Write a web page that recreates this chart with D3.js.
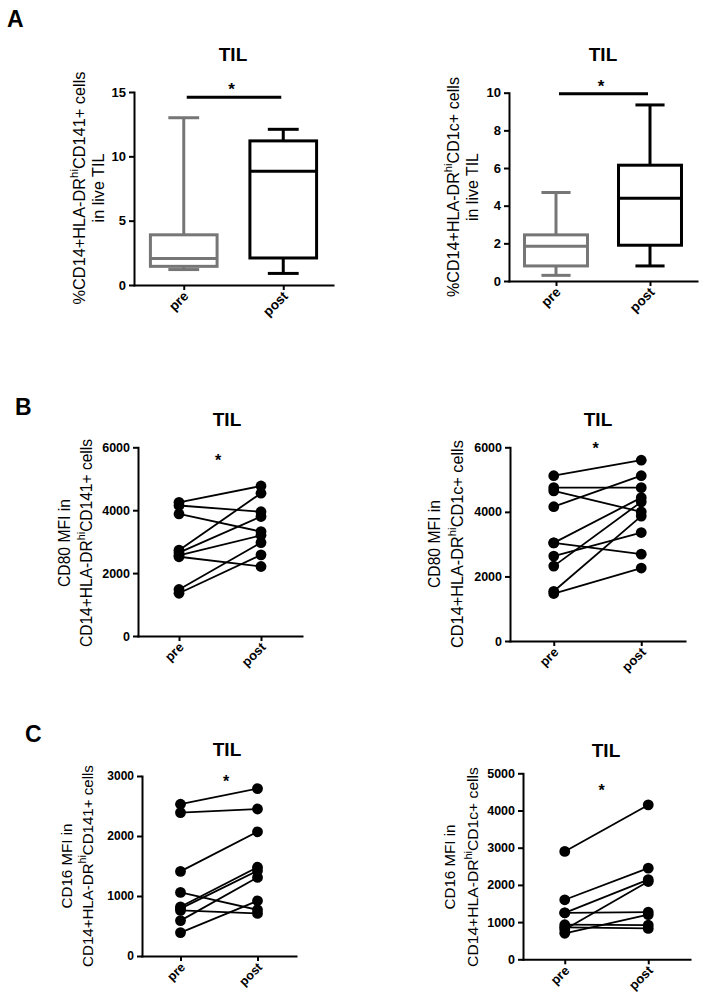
<!DOCTYPE html>
<html><head><meta charset="utf-8">
<script src="https://cdn.jsdelivr.net/npm/d3@7"></script>
<style>
body{margin:0;background:#fff}
text{font-family:"Liberation Sans",Arial,Helvetica,sans-serif}
</style>
</head><body>
<svg id="c" width="704" height="1005"></svg>
<script>
// ---------- data ----------
const categories = ["pre", "post"];

// Panel A (box plots: [min, q1, median, q3, max])
const a1Ticks = [0, 5, 10, 15];
const a1Pre  = [1.2, 1.45, 2.05, 3.9, 13.0];
const a1Post = [0.9, 2.1, 8.85, 11.2, 12.1];

const a2Ticks = [0, 2, 4, 6, 8, 10];
const a2Pre  = [0.3, 0.8, 1.85, 2.45, 4.7];
const a2Post = [0.8, 1.9, 4.4, 6.15, 9.35];

// Panel B (paired values)
const b1Ticks = [0, 2000, 4000, 6000];
const b1Pre  = [4250, 4150, 3880, 2730, 2650, 2560, 2520, 1480, 1360];
const b1Post = [4770, 3950, 3320, 4540, 3800, 3200, 2210, 2970, 2580];

const b2Ticks = [0, 2000, 4000, 6000];
const b2Pre  = [5120, 4750, 4650, 4160, 3040, 3040, 2630, 2320, 1540, 1470];
const b2Post = [5600, 4750, 4000, 5120, 4440, 2690, 3360, 4310, 3870, 2260];

// Panel C (paired values)
const c1Ticks = [0, 1000, 2000, 3000];
const c1Pre  = [2530, 2390, 1410, 1060, 820, 790, 760, 590, 390];
const c1Post = [2790, 2450, 2070, 770, 1480, 1420, 710, 1310, 920];

const c2Ticks = [0, 1000, 2000, 3000, 4000, 5000];
const c2Pre  = [2900, 1600, 1250, 1250, 930, 860, 800, 700];
const c2Post = [4150, 2450, 2140, 1270, 920, 830, 2090, 1200];

const titles = ["TIL", "TIL", "TIL", "TIL", "TIL", "TIL"];
const panelLetters = ["A", "B", "C"];

// ---------- drawing ----------
const svg = d3.select("#c");
const FONT = '"Liberation Sans",Arial,Helvetica,sans-serif';

function drawAxes(g, cfg, x, y) {
  const ya = g.append("g").attr("transform", `translate(${cfg.x0},0)`)
    .call(d3.axisLeft(y).tickValues(cfg.ticks).tickSize(5).tickSizeOuter(0).tickPadding(3).tickFormat(d3.format("d")));
  const xa = g.append("g").attr("transform", `translate(0,${cfg.y0})`)
    .call(d3.axisBottom(x).tickSize(5).tickSizeOuter(0));
  [ya, xa].forEach(a => {
    a.select(".domain").attr("stroke", "#000").attr("stroke-width", 2).attr("stroke-linecap", "square");
    a.selectAll(".tick line").attr("stroke", "#000").attr("stroke-width", 2);
    a.selectAll("text").attr("fill", "#000").attr("font-weight", "bold")
      .attr("font-size", cfg.tickFont).attr("font-family", FONT);
  });
  xa.selectAll(".tick text")
    .attr("x", 0).attr("y", 0).attr("dy", 0)
    .attr("font-size", cfg.tickFont + 0.5)
    .attr("text-anchor", "end")
    .attr("transform", `translate(${cfg.xlabDx},${cfg.xlabDy}) rotate(-45)`);
}

function drawYLabel(g, cfg) {
  cfg.ylabel.forEach((line, i) => {
    const t = g.append("text")
      .attr("text-anchor", "middle")
      .attr("font-size", cfg.labFont).attr("fill", "#000");
    if (typeof line === "string") { t.text(line); }
    else {
      t.append("tspan").text(line[0]);
      t.append("tspan").attr("font-size", cfg.labFont * 0.7).attr("dy", -cfg.labFont * 0.42).text(line[1]);
      t.append("tspan").attr("dy", cfg.labFont * 0.42).text(line[2]);
    }
    const w = t.node().getComputedTextLength();
    const s = cfg.ylabLen[i] / w;
    t.attr("transform", `translate(${cfg.ylabX[i]},${cfg.ylabY}) rotate(-90) scale(${s},1)`);
  });
}

function drawTitle(g, cfg, title) {
  g.append("text").attr("x", cfg.titleX).attr("y", cfg.titleY)
    .attr("text-anchor", "middle").attr("font-weight", "bold")
    .attr("font-size", 19).attr("fill", "#000").text(title);
}

function boxPanel(cfg, pre, post, title) {
  const g = svg.append("g");
  const x = d3.scalePoint().domain(categories).range([cfg.x0, cfg.x1]).padding(0.5);
  const y = d3.scaleLinear().domain([0, cfg.ymax]).range([cfg.y0, cfg.y1]);
  const bw = x.step() * 0.67, cw = x.step() * 0.31;
  const data = [{k: "pre", s: pre, c: "#767676"}, {k: "post", s: post, c: "#000"}];
  const bg = g.selectAll("g.box").data(data).join("g");
  bg.append("line").attr("x1", d => x(d.k)).attr("x2", d => x(d.k))
    .attr("y1", d => y(d.s[0])).attr("y2", d => y(d.s[1]));
  bg.append("line").attr("x1", d => x(d.k)).attr("x2", d => x(d.k))
    .attr("y1", d => y(d.s[3])).attr("y2", d => y(d.s[4]));
  bg.append("line").attr("x1", d => x(d.k) - cw / 2).attr("x2", d => x(d.k) + cw / 2)
    .attr("y1", d => y(d.s[0])).attr("y2", d => y(d.s[0]));
  bg.append("line").attr("x1", d => x(d.k) - cw / 2).attr("x2", d => x(d.k) + cw / 2)
    .attr("y1", d => y(d.s[4])).attr("y2", d => y(d.s[4]));
  bg.append("rect").attr("x", d => x(d.k) - bw / 2).attr("width", bw)
    .attr("y", d => y(d.s[3])).attr("height", d => y(d.s[1]) - y(d.s[3]))
    .attr("fill", "none");
  bg.append("line").attr("x1", d => x(d.k) - bw / 2).attr("x2", d => x(d.k) + bw / 2)
    .attr("y1", d => y(d.s[2])).attr("y2", d => y(d.s[2]));
  bg.selectAll("line,rect").attr("stroke", function () { return d3.select(this.parentNode).datum().c; })
    .attr("stroke-width", 3);
  drawAxes(g, cfg, x, y);
  // significance bar
  const by = y(cfg.barVal);
  g.append("line").attr("x1", x("pre") + 3).attr("x2", x("post") - 2)
    .attr("y1", by).attr("y2", by).attr("stroke", "#000").attr("stroke-width", 3);
  g.append("text").attr("x", (x("pre") + x("post")) / 2 - 2).attr("y", by - 2)
    .attr("text-anchor", "middle").attr("font-weight", "bold").attr("font-size", 17).text("*");
  drawYLabel(g, cfg);
  drawTitle(g, cfg, title);
}

function pairPanel(cfg, pre, post, title) {
  const g = svg.append("g");
  const x = d3.scalePoint().domain(categories).range([cfg.x0, cfg.x1]).padding(0.5);
  const y = d3.scaleLinear().domain([0, cfg.ymax]).range([cfg.y0, cfg.y1]);
  const pairs = pre.map((v, i) => [v, post[i]]);
  g.selectAll("line.pair").data(pairs).join("line")
    .attr("x1", x("pre")).attr("x2", x("post"))
    .attr("y1", d => y(d[0])).attr("y2", d => y(d[1]))
    .attr("stroke", "#000").attr("stroke-width", 1.8);
  g.selectAll("circle.pre").data(pre).join("circle").attr("cx", x("pre")).attr("cy", d => y(d)).attr("r", 5.4).attr("fill", "#000");
  g.selectAll("circle.post").data(post).join("circle").attr("cx", x("post")).attr("cy", d => y(d)).attr("r", 5.4).attr("fill", "#000");
  drawAxes(g, cfg, x, y);
  g.append("text").attr("x", (x("pre") + x("post")) / 2 + cfg.starDx).attr("y", y(cfg.starVal) + 9)
    .attr("text-anchor", "middle").attr("font-weight", "bold").attr("font-size", 16).text("*");
  drawYLabel(g, cfg);
  drawTitle(g, cfg, title);
}

const labA1 = [["%CD14+HLA-DR", "hi", "CD141+ cells"], "in live TIL"];
const labA2 = [["%CD14+HLA-DR", "hi", "CD1c+ cells"], "in live TIL"];
const labB1 = ["CD80 MFI in", ["CD14+HLA-DR", "hi", "CD141+ cells"]];
const labB2 = ["CD80 MFI in", ["CD14+HLA-DR", "hi", "CD1c+ cells"]];
const labC1 = ["CD16 MFI in", ["CD14+HLA-DR", "hi", "CD141+ cells"]];
const labC2 = ["CD16 MFI in", ["CD14+HLA-DR", "hi", "CD1c+ cells"]];

boxPanel({x0: 134, x1: 333, y0: 285, y1: 92, ymax: 15, ticks: a1Ticks, tickFont: 13,
  xlabDx: 5, xlabDy: 12, barVal: 14.6, ylabel: labA1, ylabX: [85, 104], ylabLen: [233, 69], ylabY: 188, labFont: 16,
  titleX: 233, titleY: 61}, a1Pre, a1Post, titles[0]);
boxPanel({x0: 509, x1: 697, y0: 281, y1: 92.7, ymax: 10, ticks: a2Ticks, tickFont: 13,
  xlabDx: 5, xlabDy: 12, barVal: 9.95, ylabel: labA2, ylabX: [459, 478], ylabLen: [220, 68], ylabY: 187, labFont: 16,
  titleX: 603, titleY: 61}, a2Pre, a2Post, titles[1]);
pairPanel({x0: 138, x1: 302, y0: 636, y1: 447.3, ymax: 6000, ticks: b1Ticks, tickFont: 12.5,
  xlabDx: 5, xlabDy: 12, starVal: 5700, starDx: -2, ylabel: labB1, ylabX: [70, 92], ylabLen: [88, 208], ylabY: 543, labFont: 16,
  titleX: 227, titleY: 426}, b1Pre, b1Post, titles[2]);
pairPanel({x0: 510, x1: 685, y0: 641, y1: 447.3, ymax: 6000, ticks: b2Ticks, tickFont: 12.5,
  xlabDx: 5, xlabDy: 12, starVal: 6070, starDx: -2, ylabel: labB2, ylabX: [440, 463], ylabLen: [88, 208], ylabY: 544, labFont: 16,
  titleX: 598, titleY: 426}, b2Pre, b2Post, titles[3]);
pairPanel({x0: 142, x1: 296, y0: 956, y1: 776, ymax: 3000, ticks: c1Ticks, tickFont: 12,
  xlabDx: 5, xlabDy: 12, starVal: 2967, starDx: 7, ylabel: labC1, ylabX: [72, 93], ylabLen: [85, 202], ylabY: 866, labFont: 15.5,
  titleX: 227, titleY: 756}, c1Pre, c1Post, titles[4]);
pairPanel({x0: 523, x1: 690, y0: 959.3, y1: 773.3, ymax: 5000, ticks: c2Ticks, tickFont: 12.5,
  xlabDx: 5, xlabDy: 12, starVal: 4632, starDx: -5, ylabel: labC2, ylabX: [455, 478], ylabLen: [85, 200], ylabY: 867, labFont: 15.5,
  titleX: 606, titleY: 757}, c2Pre, c2Post, titles[5]);

// panel letters
const letterPos = [[7, 27], [15, 415], [25, 742]];
svg.selectAll("text.letter").data(panelLetters).join("text").attr("class", "letter")
  .attr("x", (d, i) => letterPos[i][0]).attr("y", (d, i) => letterPos[i][1])
  .attr("font-weight", "bold").attr("font-size", 23).attr("fill", "#000").text(d => d);
</script>
</body></html>
